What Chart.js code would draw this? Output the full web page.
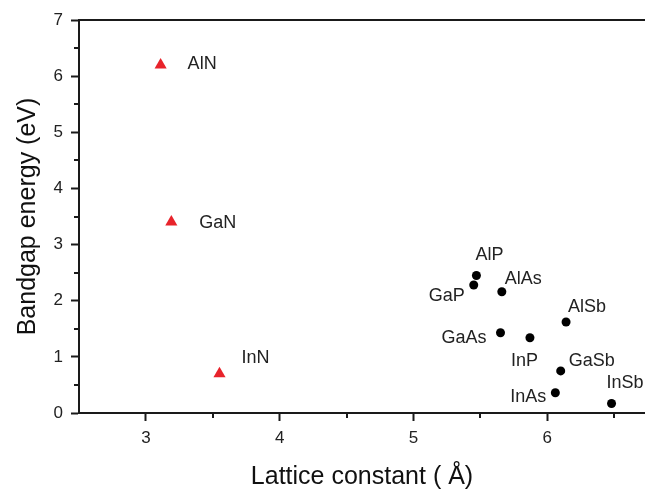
<!DOCTYPE html>
<html>
<head>
<meta charset="utf-8">
<script src="https://cdn.jsdelivr.net/npm/chart.js@4/dist/chart.umd.min.js"></script>
<style>
  html, body { margin: 0; padding: 0; background: #fff; }
  #wrap { width: 645px; height: 493px; }
</style>
</head>
<body>
<div id="wrap"><canvas id="chart" width="645" height="493"></canvas></div>
<script>
'use strict';

// ── Data ─────────────────────────────────────────────────────
const nitrideNames   = ['AlN', 'GaN', 'InN'];
const nitrideLattice = [3.11, 3.19, 3.55];
const nitrideGap     = [6.2, 3.4, 0.7];

const zbNames   = ['AlP', 'GaP', 'AlAs', 'AlSb', 'GaAs', 'InP', 'GaSb', 'InAs', 'InSb'];
const zbLattice = [5.47, 5.45, 5.66, 6.14, 5.65, 5.87, 6.10, 6.06, 6.48];
const zbGap     = [2.45, 2.28, 2.16, 1.62, 1.43, 1.34, 0.75, 0.36, 0.17];

const xTicks = [3, 4, 5, 6];
const yTicks = [0, 1, 2, 3, 4, 5, 6, 7];

// ── Label placement (pixel offsets from each marker) ────────
const LABEL_POS = {
  AlN:  { dx: 27,  dy: -1,  align: 'left'   },
  GaN:  { dx: 28,  dy: 1,   align: 'left'   },
  InN:  { dx: 22,  dy: -16, align: 'left'   },
  AlP:  { dx: 13,  dy: -20, align: 'center' },
  GaP:  { dx: -9,  dy: 11,  align: 'right'  },
  AlAs: { dx: 3,   dy: -13, align: 'left'   },
  AlSb: { dx: 2,   dy: -15, align: 'left'   },
  GaAs: { dx: -14, dy: 5,   align: 'right'  },
  InP:  { dx: -19, dy: 23,  align: 'left'   },
  GaSb: { dx: 8,   dy: -10, align: 'left'   },
  InAs: { dx: -9,  dy: 4,   align: 'right'  },
  InSb: { dx: -5,  dy: -20, align: 'left'   },
};

const FONT = "'Liberation Sans', Arial, sans-serif";
const INK  = '#1a1a1a';

const toPoints = (xs, ys, names) => xs.map((x, i) => ({ x, y: ys[i], name: names[i] }));

// ── Point labels + minor ticks + top frame line ─────────────
const decorations = {
  id: 'decorations',
  afterDatasetsDraw(chart) {
    const { ctx, chartArea: { left, right, top, bottom }, scales: { x, y } } = chart;
    ctx.save();

    // point labels
    ctx.fillStyle = '#222';
    ctx.font = `18px ${FONT}`;
    ctx.textBaseline = 'middle';
    chart.data.datasets.forEach((ds, di) => {
      chart.getDatasetMeta(di).data.forEach((el, i) => {
        const name = ds.data[i].name;
        const p = LABEL_POS[name] || { dx: 10, dy: 0, align: 'left' };
        ctx.textAlign = p.align;
        ctx.fillText(name, el.x + p.dx, el.y + p.dy);
      });
    });

    // minor ticks
    ctx.strokeStyle = INK;
    ctx.lineWidth = 2;
    ctx.beginPath();
    for (let v = 3.5; v < x.max; v += 1) {
      const px = Math.round(x.getPixelForValue(v));
      ctx.moveTo(px, bottom);
      ctx.lineTo(px, bottom + 5);
    }
    for (let v = 0.5; v < y.max; v += 1) {
      const py = Math.round(y.getPixelForValue(v));
      ctx.moveTo(left, py);
      ctx.lineTo(left - 5, py);
    }
    ctx.stroke();

    // top frame line
    ctx.beginPath();
    ctx.moveTo(left, top);
    ctx.lineTo(right, top);
    ctx.stroke();
    ctx.restore();
  },
};

new Chart(document.getElementById('chart'), {
  type: 'scatter',
  data: {
    datasets: [
      {
        label: 'Nitrides',
        data: toPoints(nitrideLattice, nitrideGap, nitrideNames),
        pointStyle: 'triangle',
        pointRadius: 7,
        backgroundColor: '#e8232b',
        borderColor: '#e8232b',
        borderWidth: 0,
      },
      {
        label: 'III-V',
        data: toPoints(zbLattice, zbGap, zbNames),
        pointStyle: 'circle',
        pointRadius: 4.5,
        backgroundColor: '#000',
        borderColor: '#000',
        borderWidth: 0,
      },
    ],
  },
  options: {
    responsive: false,
    animation: false,
    layout: { autoPadding: false, padding: { top: 20, right: 0, left: 0, bottom: 0 } },
    plugins: { legend: { display: false }, tooltip: { enabled: false } },
    scales: {
      x: {
        type: 'linear',
        min: 2.5,
        max: 6.73,
        afterBuildTicks: s => { s.ticks = xTicks.map(v => ({ value: v })); },
        afterFit: s => { s.height = 80; s.paddingRight = 0; },
        border: { display: true, color: INK, width: 2 },
        grid: { drawOnChartArea: false, drawTicks: true, tickLength: 8, tickColor: INK, tickWidth: 2 },
        ticks: { color: '#222', font: { family: FONT, size: 17 }, padding: 7 },
        title: {
          display: true,
          text: 'Lattice constant ( Å)',
          color: '#111',
          font: { family: FONT, size: 25 },
          padding: { top: 1, bottom: 1 },
        },
      },
      y: {
        type: 'linear',
        min: 0,
        max: 7,
        afterBuildTicks: s => { s.ticks = yTicks.map(v => ({ value: v })); },
        afterFit: s => { s.width = 79; },
        border: { display: true, color: INK, width: 2 },
        grid: { drawOnChartArea: false, drawTicks: true, tickLength: 8, tickColor: INK, tickWidth: 2 },
        ticks: { color: '#222', font: { family: FONT, size: 17 }, padding: 8 },
        title: {
          display: true,
          text: 'Bandgap energy (eV)',
          color: '#111',
          font: { family: FONT, size: 25 },
          padding: { top: 13, bottom: 13 },
        },
      },
    },
  },
  plugins: [decorations],
});
</script>
</body>
</html>
